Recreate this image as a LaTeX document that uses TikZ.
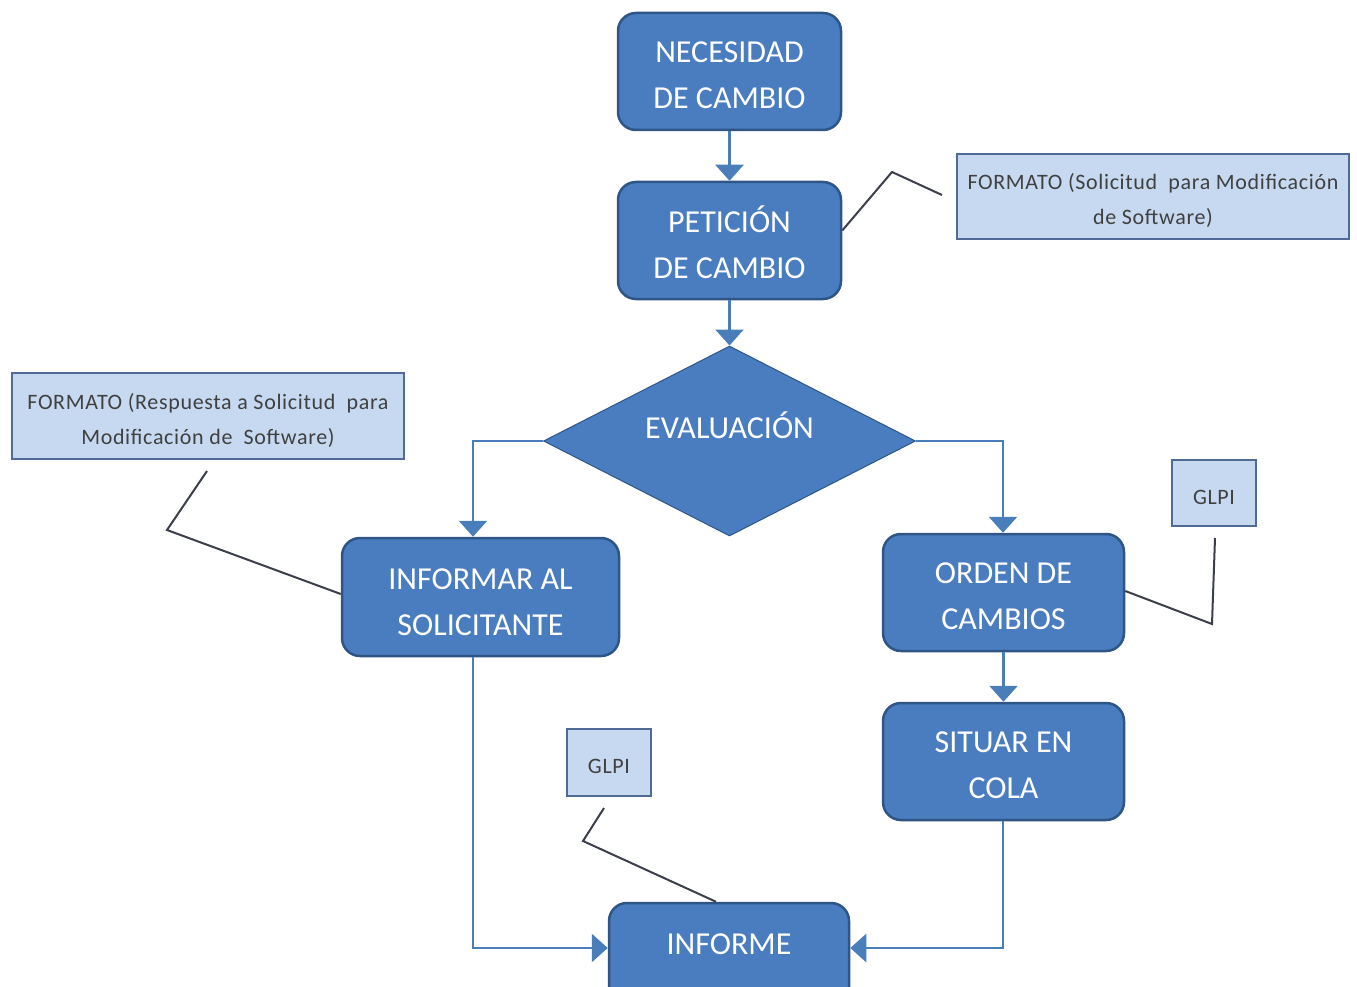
\documentclass[tikz,border=0pt]{standalone}
\usepackage{fontspec}
\setmainfont{Carlito}
\newfontfamily\notefont[LetterSpace=3]{Carlito}
\usetikzlibrary{shapes.geometric,arrows.meta}
\definecolor{boxfill}{HTML}{4A7DC0}
\definecolor{boxdraw}{HTML}{2F5587}
\definecolor{lineblue}{HTML}{4A7EBB}
\definecolor{notefill}{HTML}{C6D9F1}
\definecolor{notedraw}{HTML}{4F6A95}
\definecolor{notetext}{HTML}{404040}
\definecolor{leader}{HTML}{3A3F4A}
% two-line text, lowered by #1 (last baseline below node centre)
\newcommand\twoline[3]{\raisebox{-#1}[0pt][0pt]{\vbox{\halign{\hfil##\hfil\cr#2\cr#3\cr}}}}
\newcommand\oneline[2]{\raisebox{#1}[0pt][0pt]{#2}}
\tikzset{
  procbox/.style={draw=boxdraw, line width=2.5pt, fill=boxfill, rounded corners=18pt,
    text=white, font=\fontsize{32}{46}\selectfont, inner sep=0pt},
  decbox/.style={diamond, draw=boxdraw, line width=1pt, fill=boxfill, text=white,
    font=\fontsize{32}{46}\selectfont, inner sep=0pt, minimum width=372pt, minimum height=190pt},
  notebox/.style={draw=notedraw, line width=1.5pt, fill=notefill, text=notetext,
    font=\notefont\fontsize{22}{35}\selectfont, inner sep=0pt},
  flow/.style={draw=lineblue, line width=2.8pt, -{Triangle[length=16pt,width=28pt]}},
  leadline/.style={draw=leader, line width=2pt},
}
\begin{document}
\begin{tikzpicture}[x=1pt,y=-1pt]
\useasboundingbox (0,0) rectangle (1357,987);
\clip (0,0) rectangle (1357,987);
% process boxes
\node[procbox, minimum width=223pt, minimum height=117pt] (nec) at (729.5,71.5) {\twoline{37pt}{NECESIDAD}{DE CAMBIO}};
\node[procbox, minimum width=223pt, minimum height=117pt] (pet) at (729.5,240.5) {\twoline{38pt}{PETICIÓN}{DE CAMBIO}};
\node[decbox] (eva) at (729.5,441) {\oneline{2.7pt}{EVALUACIÓN}};
\node[procbox, minimum width=277pt, minimum height=118pt] (inf) at (480.5,597) {\twoline{38pt}{INFORMAR AL}{SOLICITANTE}};
\node[procbox, minimum width=241pt, minimum height=117pt] (ord) at (1003.5,592.5) {\twoline{37pt}{ORDEN DE}{CAMBIOS}};
\node[procbox, minimum width=241pt, minimum height=117pt] (sit) at (1003.5,761.5) {\twoline{37pt}{SITUAR EN}{COLA}};
\node[procbox, minimum width=240pt, minimum height=117pt] (rep) at (729,961.5) {\oneline{7pt}{INFORME}};
% notes
\node[notebox, minimum width=392pt, minimum height=85pt] (n1) at (1153,196.5) {\twoline{28pt}{FORMATO (Solicitud \ para Modificación}{de Software)}};
\node[notebox, minimum width=392pt, minimum height=86pt] (n2) at (208,416) {\twoline{28.5pt}{FORMATO (Respuesta a Solicitud \ para}{Modificación de \ Software)}};
\node[notebox, minimum width=84pt, minimum height=66pt] (g1) at (1214,493) {\oneline{-11pt}{GLPI}};
\node[notebox, minimum width=84pt, minimum height=67pt] (g2) at (609,762.5) {\oneline{-10.5pt}{GLPI}};
% flow connectors
\draw[flow] (nec.south) -- (pet.north);
\draw[flow] (pet.south) -- (eva.north);
\coordinate (lbend) at (eva.west -| 473,0);
\coordinate (rbend) at (eva.east -| 1003,0);
\draw[flow] (eva.west) -- (lbend) -- (lbend |- inf.north);
\draw[flow] (eva.east) -- (rbend) -- (rbend |- ord.north);
\draw[flow] (ord.south) -- (sit.north);
\coordinate (lcorner) at (473,948);
\coordinate (rcorner) at (1003,948);
\draw[flow] (lbend |- inf.south) -- (lcorner) -- (lcorner -| rep.west);
\draw[flow] (rbend |- sit.south) -- (rcorner) -- (rcorner -| rep.east);
% leader lines
\coordinate (a1) at (942,195);
\coordinate (a1b) at (892,172);
\draw[leadline] (a1) -- (a1b) -- ([yshift=10pt]pet.east);
\coordinate (a2) at (207,471);
\coordinate (a2b) at (167,530);
\draw[leadline] (a2) -- (a2b) -- ([yshift=3pt]inf.west);
\coordinate (a3) at (1215,538);
\coordinate (a3b) at (1212,624);
\draw[leadline] (a3) -- (a3b) -- ([yshift=1.5pt]ord.east);
\coordinate (a4) at (604,808);
\coordinate (a4b) at (583,841);
\draw[leadline] (a4) -- (a4b) -- ([xshift=-13pt]rep.north);
\end{tikzpicture}
\end{document}
